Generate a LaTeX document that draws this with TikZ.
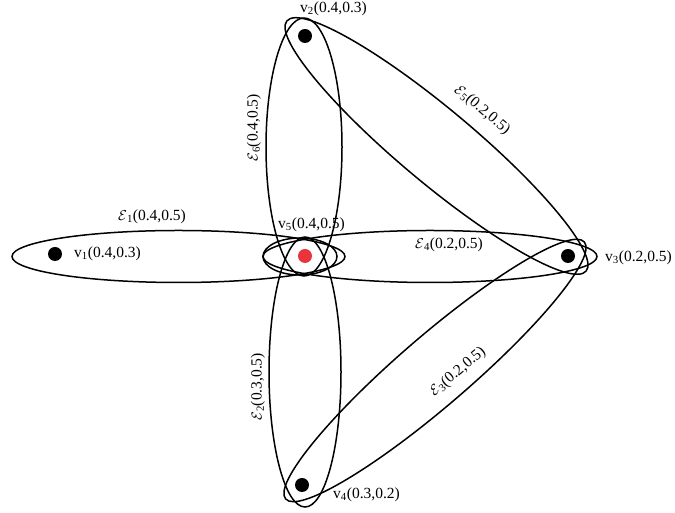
\documentclass[tikz,border=0pt]{standalone}
\usepackage{fontspec}
\setmainfont{Liberation Serif}
\definecolor{dotred}{RGB}{232,52,58}
\begin{document}
\begin{tikzpicture}[x=1pt,y=1pt,
  edge/.style={draw=black,line width=1.5pt},
  vdot/.style={circle,fill=black,inner sep=0pt,minimum size=14pt},
  rdot/.style={circle,fill=dotred,inner sep=0pt,minimum size=14pt},
  lab/.style={inner sep=0pt,font=\fontsize{15.5}{18}\selectfont}]
\useasboundingbox (0,0) rectangle (675,513);
% hyperedges
\draw[edge] (178.5,256.5) ellipse [x radius=166.5,y radius=26];
\draw[edge] (430,256.5) ellipse [x radius=167,y radius=26];
\draw[edge] (300,256.5) ellipse [x radius=37,y radius=18.5];
\draw[edge] (304,366) ellipse [x radius=38,y radius=129];
\draw[edge] (305,141) ellipse [x radius=36,y radius=135];
\draw[edge,rotate around={-39.9:(436.5,367)}] (436.5,367) ellipse [x radius=195,y radius=37];
\draw[edge,rotate around={40.7:(435,142.5)}] (435,142.5) ellipse [x radius=197,y radius=35];
% vertices
\node[vdot] (v1) at (55,259) {};
\node[vdot] (v2) at (305,477) {};
\node[vdot] (v3) at (568,257) {};
\node[vdot] (v4) at (302,28) {};
\node[rdot] (v5) at (305,257) {};
% vertex labels
\node[lab,anchor=west] (l2) at (300,504) {v\textsubscript{2}(0.4,0.3)};
\node[lab,anchor=west] (l1) at (74,259) {v\textsubscript{1}(0.4,0.3)};
\node[lab,anchor=west] (l5) at (278,288) {v\textsubscript{5}(0.4,0.5)};
\node[lab,anchor=west] (l3) at (605,255) {v\textsubscript{3}(0.2,0.5)};
\node[lab,anchor=west] (l4) at (333,18) {v\textsubscript{4}(0.3,0.2)};
% hyperedge labels
\node[lab] (e1) at (152,296) {$\mathcal{E}$\textsubscript{1}(0.4,0.5)};
\node[lab] (e4) at (449,268) {$\mathcal{E}$\textsubscript{4}(0.2,0.5)};
\node[lab,rotate=90] (e6) at (254,385) {$\mathcal{E}$\textsubscript{6}(0.4,0.5)};
\node[lab,rotate=90] (e2) at (258,126) {$\mathcal{E}$\textsubscript{2}(0.3,0.5)};
\node[lab,rotate=-40] (e5) at (482,403) {$\mathcal{E}$\textsubscript{5}(0.2,0.5)};
\node[lab,rotate=40] (e3) at (458,141) {$\mathcal{E}$\textsubscript{3}(0.2,0.5)};
\end{tikzpicture}
\end{document}
